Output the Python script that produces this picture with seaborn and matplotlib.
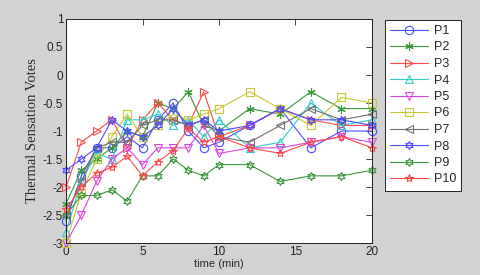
import numpy as np
import pandas as pd
import seaborn as sns
import matplotlib.pyplot as plt

# time points (min)
times = [0, 1, 2, 3, 4, 5, 6, 7, 8, 9, 10, 12, 14, 16, 18, 20]

# thermal sensation votes per participant
p1 = [-2.6, -1.8, -1.3, -1.3, -1.1, -1.3, -0.8, -0.5, -1.0, -1.3, -1.2, -0.9, -0.6, -1.3, -1.0, -1.0]
p2 = [-2.3, -1.7, -1.5, -1.3, -1.0, -1.1, -0.5, -0.6, -0.3, -0.9, -1.0, -0.6, -0.7, -0.3, -0.6, -0.6]
p3 = [-2.0, -1.2, -1.0, -0.8, -1.3, -0.8, -0.5, -0.8, -0.9, -0.3, -1.1, -0.9, -0.6, -0.8, -0.9, -0.9]
p4 = [-2.8, -1.9, -1.4, -1.5, -0.8, -0.8, -0.7, -0.9, -0.8, -1.1, -0.8, -1.3, -1.2, -0.5, -0.9, -0.8]
p5 = [-3.0, -2.5, -1.9, -1.5, -1.3, -1.6, -1.3, -1.3, -1.3, -0.9, -1.4, -1.3, -1.3, -1.2, -1.1, -1.2]
p6 = [-3.0, -2.1, -1.5, -1.1, -0.7, -1.1, -0.9, -0.7, -0.8, -0.7, -0.6, -0.3, -0.6, -0.9, -0.4, -0.5]
p7 = [-2.5, -1.9, -1.3, -1.2, -1.2, -0.9, -0.8, -0.8, -0.9, -0.8, -1.1, -1.2, -0.9, -0.6, -0.8, -0.7]
p8 = [-1.7, -1.5, -1.3, -0.8, -1.0, -1.1, -0.9, -0.6, -0.9, -0.8, -1.0, -0.9, -0.6, -0.8, -0.8, -0.9]
p9 = [-2.5, -2.15, -2.15, -2.05, -2.25, -1.8, -1.8, -1.5, -1.7, -1.8, -1.6, -1.6, -1.9, -1.8, -1.8, -1.7]
p10 = [-2.4, -2.0, -1.75, -1.65, -1.45, -1.8, -1.55, -1.35, -0.95, -1.2, -1.1, -1.3, -1.4, -1.2, -1.1, -1.3]

names = ['P1', 'P2', 'P3', 'P4', 'P5', 'P6', 'P7', 'P8', 'P9', 'P10']
series = [p1, p2, p3, p4, p5, p6, p7, p8, p9, p10]

colors = ['#4b4bff', '#3c963c', '#ff4848', '#30cccc', '#dd44dd',
          '#c8c832', '#707070', '#4b4bff', '#3c963c', '#ff4848']
markers = ['o', (6, 2, 0), '>', '^', 'v', 's', '<', (6, 1, 0), (6, 1, 0), '*']

sns.set_style('white')
plt.rcParams['font.family'] = ['Liberation Sans', 'DejaVu Sans']

fig = plt.figure(figsize=(4.8, 2.75), dpi=100, facecolor='#d2d2d2')
ax = fig.add_axes([0.1375, 0.116, 0.6375, 0.815])
ax.set_facecolor('white')

for name, vals, c, m in zip(names, series, colors, markers):
    df = pd.DataFrame({'time': times, 'tsv': vals})
    sns.lineplot(data=df, x='time', y='tsv', ax=ax, color=c, marker=m,
                 markersize=6, markerfacecolor='none', markeredgecolor=c,
                 markeredgewidth=0.8, linewidth=0.8, label=name, clip_on=False)

ax.set_xlim(0, 20)
ax.set_ylim(-3, 1)
ax.set_xticks([0, 5, 10, 15, 20])
ax.set_yticks(np.arange(-3, 1.01, 0.5))
ax.set_yticklabels(['-3', '-2.5', '-2', '-1.5', '-1', '-0.5', '0', '0.5', '1'])
ax.tick_params(direction='in', length=4, width=0.6, top=True, right=True,
               labelsize=8.5, pad=2, colors='#222222')
for s in ax.spines.values():
    s.set_color('#222222')
    s.set_linewidth(0.7)

ax.set_xlabel('time (min)', fontsize=8, labelpad=1)
ax.set_ylabel('Thermal Sensation Votes', fontsize=10.5, family='Liberation Serif', labelpad=3)

leg = ax.legend(loc='upper left', bbox_to_anchor=(385 / 480, 1 - 20 / 275),
                bbox_transform=fig.transFigure, fontsize=9, frameon=True,
                fancybox=False, edgecolor='#222222', framealpha=1,
                handlelength=3.0, labelspacing=0.36, borderpad=0.4,
                handletextpad=0.5, borderaxespad=0)
leg.get_frame().set_linewidth(0.7)

fig.savefig('out.png', dpi=100, facecolor=fig.get_facecolor())
